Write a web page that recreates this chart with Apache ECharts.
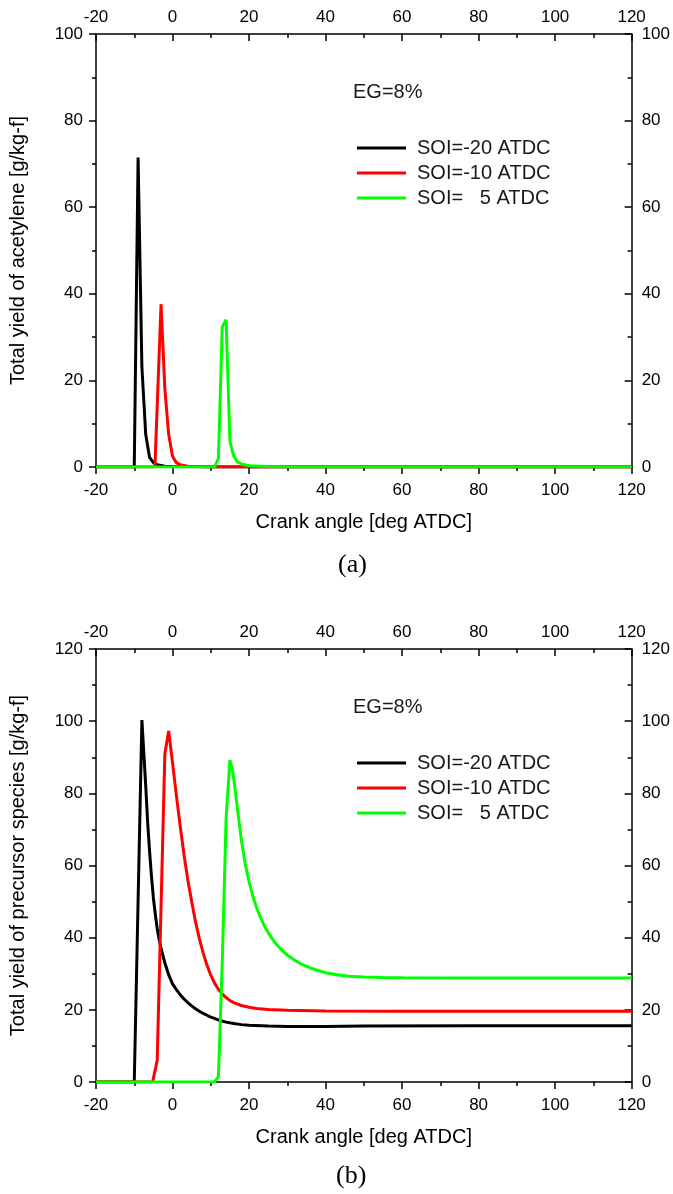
<!DOCTYPE html>
<html>
<head>
<meta charset="utf-8">
<script src="https://cdn.jsdelivr.net/npm/echarts@6/dist/echarts.min.js"></script>
<style>
html,body{margin:0;padding:0;background:#fff;}
#c{width:673px;height:1194px;}
</style>
</head>
<body>
<div id="c"></div>
<script>
// ---- Data ----
const seriesNames = ['SOI=-20 ATDC', 'SOI=-10 ATDC', 'SOI=   5 ATDC'];
const seriesColors = ['#000000', '#ff0000', '#00ff00'];
const xTicks = [-20, 0, 20, 40, 60, 80, 100, 120];

// (a) acetylene
const a_blackX = [-20, -10, -9, -8, -7, -6, -5, -4, -2, 0, 10, 120];
const a_blackY = [0, 0, 71.5, 23, 7.5, 2.2, 1.0, 0.5, 0.2, 0.1, 0, 0];
const a_redX = [-20, -4.6, -3, -2, -1, 0, 1, 2, 4, 10, 120];
const a_redY = [0, 0, 37.6, 18, 7.5, 2.5, 1.0, 0.5, 0.2, 0, 0];
const a_greenX = [-20, 11, 12, 13, 14, 15, 16, 17, 18, 20, 25, 30, 120];
const a_greenY = [0, 0, 2, 32.4, 34, 6, 2.5, 1.2, 0.7, 0.3, 0.1, 0, 0];

// (b) precursor species
const b_blackX = [-20, -10, -8, -7, -6.5, -6, -5.5, -5, -4.5, -4, -3.5, -3, -2, -1, 0, 1, 2, 3, 4, 5, 6, 7, 8, 9, 10, 12, 14, 16, 18, 20, 25, 30, 40, 50, 80, 120];
const b_blackY = [0, 0, 100.3, 82, 72, 64, 57, 51, 46.5, 42.5, 39.5, 37, 33, 29.7, 27.2, 25.6, 24.2, 23, 22, 21.1, 20.3, 19.6, 19, 18.5, 18, 17.2, 16.6, 16.2, 15.9, 15.7, 15.5, 15.4, 15.4, 15.5, 15.6, 15.6];
const b_redX = [-20, -5.2, -4, -2, -1, 0, 1, 2, 3, 4, 5, 6, 7, 8, 9, 10, 11, 12, 13, 14, 15, 16, 18, 20, 22, 25, 30, 40, 60, 90, 120];
const b_redY = [0, 0, 6, 91, 97.3, 88.5, 79.5, 71, 63, 56, 50, 44.5, 39.8, 35.8, 32.4, 29.6, 27.4, 25.7, 24.4, 23.4, 22.6, 22, 21.2, 20.7, 20.4, 20.1, 19.9, 19.7, 19.6, 19.6, 19.6];
const b_greenX = [-20, 11, 12, 13, 14, 15, 15.7, 16.5, 17, 18, 19, 20, 21, 22, 23, 24, 25, 26, 27, 28, 29, 30, 32, 34, 36, 38, 40, 43, 46, 50, 55, 60, 80, 100, 120];
const b_greenY = [0, 0, 1.5, 33, 73, 89.2, 86.4, 80, 75.5, 67, 60.5, 55.5, 51.5, 48.3, 45.6, 43.3, 41.4, 39.8, 38.4, 37.2, 36.1, 35.2, 33.7, 32.5, 31.6, 30.9, 30.3, 29.7, 29.3, 29.1, 28.95, 28.9, 28.8, 28.8, 28.8];

const zip = (xs, ys) => xs.map((x, i) => [x, ys[i]]);

const FONT = 'Liberation Sans, Arial, sans-serif';
const chart = echarts.init(document.getElementById('c'), null, {renderer: 'canvas'});

function xAxisCfg(grid, pos, inside, showName) {
  return {
    type: 'value', gridIndex: grid, position: pos, min: -20, max: 120, interval: 20,
    axisLine: {show: true, onZero: false, lineStyle: {color: '#000', width: 1.5}},
    axisTick: {show: true, inside: inside, length: 7, lineStyle: {color: '#000', width: 1.5}},
    minorTick: {show: true, splitNumber: 2, length: 4, lineStyle: {color: '#000', width: 1.5}},
    splitLine: {show: false},
    axisLabel: {color: '#000', fontSize: 17, fontFamily: FONT, margin: pos === 'top' ? 8 : 15},
    name: showName ? 'Crank angle [deg ATDC]' : '',
    nameLocation: 'middle', nameGap: 45,
    nameTextStyle: {color: '#000', fontSize: 20, fontFamily: FONT}
  };
}
function yAxisCfg(grid, pos, inside, max, name) {
  return {
    type: 'value', gridIndex: grid, position: pos, min: 0, max: max, interval: 20,
    axisLine: {show: true, onZero: false, lineStyle: {color: '#000', width: 1.5}},
    axisTick: {show: true, inside: inside, length: 7, lineStyle: {color: '#000', width: 1.5}},
    minorTick: {show: true, splitNumber: 2, length: 4, lineStyle: {color: '#000', width: 1.5}},
    splitLine: {show: false},
    axisLabel: {color: '#000', fontSize: 17, fontFamily: FONT, margin: pos === 'right' ? 10 : 13},
    name: name || '',
    nameLocation: 'middle', nameRotate: 90, nameGap: 68,
    nameTextStyle: {color: '#000', fontSize: 20, fontFamily: FONT}
  };
}
function lineSeries(name, color, xi, yi, data) {
  return {
    type: 'line', name: name, xAxisIndex: xi, yAxisIndex: yi, data: data,
    showSymbol: false, symbol: 'none', smooth: false, color: color,
    lineStyle: {color: color, width: 3}, z: 3
  };
}
function legendCfg(top) {
  return {
    data: seriesNames, orient: 'vertical', left: 352, top: top,
    icon: 'rect', itemWidth: 49, itemHeight: 3, itemGap: 5,
    textStyle: {color: '#1a1a1a', fontSize: 20, fontFamily: FONT, lineHeight: 20, padding: [0, 0, 0, 6]}
  };
}

const aData = [zip(a_blackX, a_blackY), zip(a_redX, a_redY), zip(a_greenX, a_greenY)];
const bData = [zip(b_blackX, b_blackY), zip(b_redX, b_redY), zip(b_greenX, b_greenY)];

const series = [];
for (let i = 0; i < 3; i++) series.push(lineSeries(seriesNames[i], seriesColors[i], 0, 0, aData[i]));
for (let i = 0; i < 3; i++) series.push(lineSeries(seriesNames[i], seriesColors[i], 2, 2, bData[i]));

chart.setOption({
  animation: false,
  backgroundColor: '#fff',
  grid: [
    {left: 96, top: 34, width: 539, height: 433},
    {left: 96, top: 649, width: 539, height: 433}
  ],
  xAxis: [
    xAxisCfg(0, 'bottom', false, true),
    xAxisCfg(0, 'top', true, false),
    xAxisCfg(1, 'bottom', false, true),
    xAxisCfg(1, 'top', true, false)
  ],
  yAxis: [
    yAxisCfg(0, 'left', false, 100, 'Total yield of acetylene [g/kg-f]'),
    yAxisCfg(0, 'right', true, 100, ''),
    yAxisCfg(1, 'left', false, 120, 'Total yield of precursor species [g/kg-f]'),
    yAxisCfg(1, 'right', true, 120, '')
  ],
  legend: [legendCfg(133), legendCfg(748)],
  graphic: [
    {type: 'text', left: 353, top: 82, style: {text: 'EG=8%', font: '20px ' + FONT, fill: '#1a1a1a'}},
    {type: 'text', left: 353, top: 697, style: {text: 'EG=8%', font: '20px ' + FONT, fill: '#1a1a1a'}},
    {type: 'text', left: 338, top: 552, style: {text: '(a)', font: '26px Liberation Serif, Times New Roman, serif', fill: '#000'}},
    {type: 'text', left: 336, top: 1163, style: {text: '(b)', font: '26px Liberation Serif, Times New Roman, serif', fill: '#000'}}
  ],
  series: series
});
</script>
</body>
</html>
